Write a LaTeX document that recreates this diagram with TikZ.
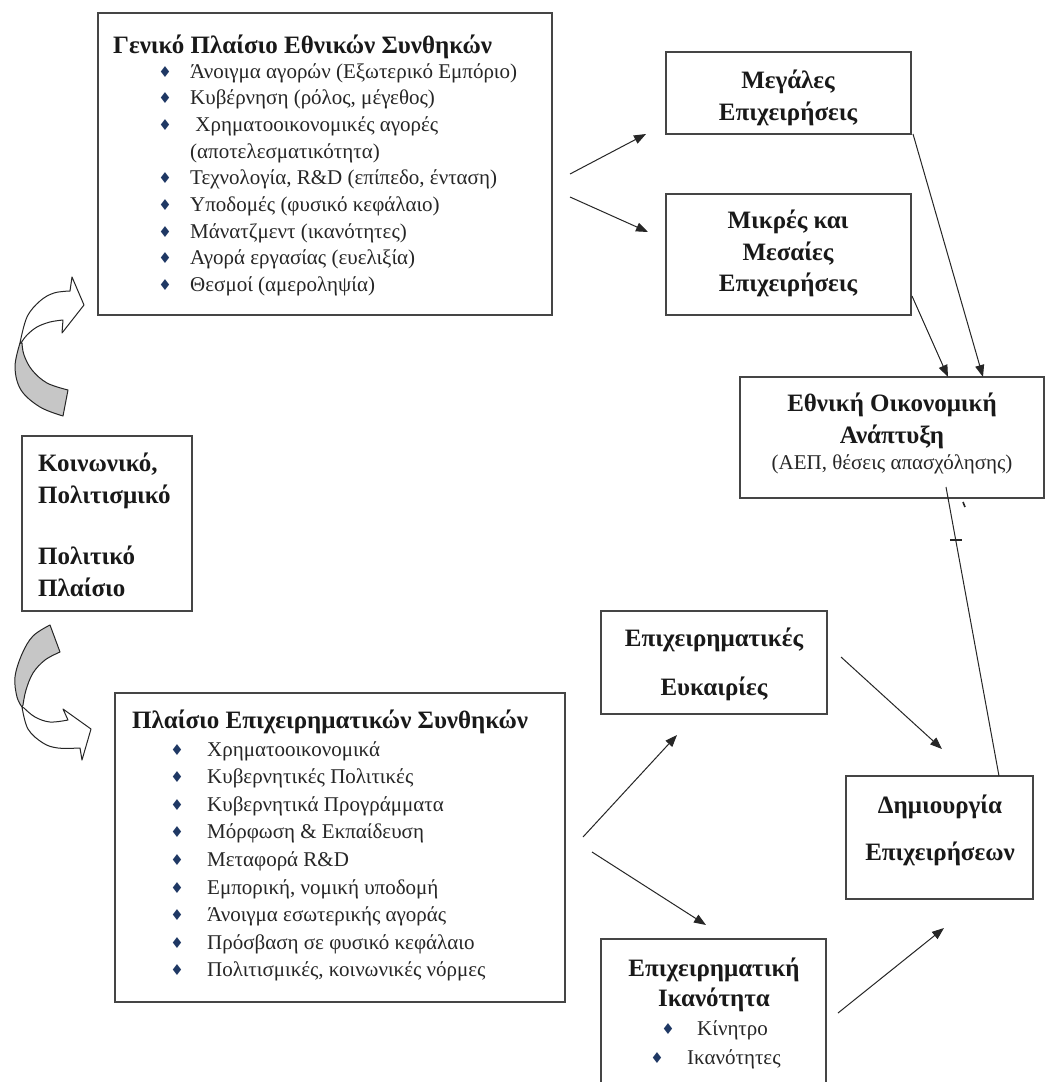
\documentclass[tikz,border=0pt]{standalone}
\usepackage{fontspec}
\setmainfont{Liberation Serif}
\newfontfamily\symf{DejaVu Sans}
\usetikzlibrary{arrows.meta}
\definecolor{navy}{HTML}{1F3864}
\definecolor{edge}{HTML}{454545}
\definecolor{tailgray}{HTML}{C6C6C6}
\tikzset{
  box/.style={draw=edge, line width=1.3pt, anchor=north west, inner sep=0pt, outer sep=0pt},
  boxline/.style={draw=edge, line width=1.3pt},
  ttl/.style={font=\fontsize{25}{28}\selectfont\bfseries, anchor=base west, inner sep=0pt, text=black!90},
  ctl/.style={font=\fontsize{25}{28}\selectfont\bfseries, anchor=base, inner sep=0pt, text=black!90},
  body/.style={font=\fontsize{21}{24}\selectfont, anchor=base west, inner sep=0pt, text=black!85},
  cbody/.style={font=\fontsize{21}{24}\selectfont, anchor=base, inner sep=0pt, text=black!85},
  bul/.style={font=\symf\fontsize{15}{15}\selectfont, text=navy, anchor=base, inner sep=0pt},
  arr/.style={-{Triangle[length=12pt,width=9pt]}, line width=1pt, draw=black!85},
  ln/.style={line width=1pt, draw=black!85},
  curv/.style={draw=black!85, line width=1pt, line join=round},
}
\begin{document}
\begin{tikzpicture}[x=1pt,y=-1pt]
\useasboundingbox (0,0) rectangle (1048,1082);
\fill[white] (0,0) rectangle (1048,1082);

% ---------- General national framework box
\node[box, minimum width=454pt, minimum height=302pt] (gen) at (98,13) {};
\node[ttl] (genT) at (113,53) {Γενικό Πλαίσιο Εθνικών Συνθηκών};
\foreach \t [count=\i] in {{Άνοιγμα αγορών (Εξωτερικό Εμπόριο)},{Κυβέρνηση (ρόλος, μέγεθος)},{\ Χρηματοοικονομικές αγορές},{(αποτελεσματικότητα)},{Τεχνολογία, R\&D (επίπεδο, ένταση)},{Υποδομές (φυσικό κεφάλαιο)},{Μάνατζμεντ (ικανότητες)},{Αγορά εργασίας (ευελιξία)},{Θεσμοί (αμεροληψία)}}{
  \node[body] (gt\i) at (190,{78+26.7*(\i-1)}) {\t};
}
\foreach \i in {1,2,3,5,6,7,8,9}{
  \node[bul] (gb\i) at (165,{77+26.7*(\i-1)}) {♦};
}

% ---------- Social / cultural / political box
\node[box, minimum width=170pt, minimum height=175pt] (soc) at (22,436) {};
\node[ttl] (soc1) at (38,471) {Κοινωνικό,};
\node[ttl] (soc2) at (38,503) {Πολιτισμικό};
\node[ttl] (soc3) at (38,564) {Πολιτικό};
\node[ttl] (soc4) at (38,596) {Πλαίσιο};

% ---------- Business framework box
\node[box, minimum width=450pt, minimum height=309pt] (biz) at (115,693) {};
\node[ttl] (bizT) at (132,728) {Πλαίσιο Επιχειρηματικών Συνθηκών};
\foreach \t [count=\i] in {{Χρηματοοικονομικά},{Κυβερνητικές Πολιτικές},{Κυβερνητικά Προγράμματα},{Μόρφωση \& Εκπαίδευση},{Μεταφορά R\&D},{Εμπορική, νομική υποδομή},{Άνοιγμα εσωτερικής αγοράς},{Πρόσβαση σε φυσικό κεφάλαιο},{Πολιτισμικές, κοινωνικές νόρμες}}{
  \node[body] (bt\i) at (207,{756+27.6*(\i-1)}) {\t};
  \node[bul] (bb\i) at (177,{755+27.6*(\i-1)}) {♦};
}

% ---------- Right-hand boxes
\node[box, minimum width=245pt, minimum height=82pt] (big) at (666,52) {};
\node[ctl] (big1) at (788,88) {Μεγάλες};
\node[ctl] (big2) at (788,120) {Επιχειρήσεις};

\node[box, minimum width=245pt, minimum height=121pt] (sme) at (666,194) {};
\node[ctl] (sme1) at (788,228) {Μικρές και};
\node[ctl] (sme2) at (788,260) {Μεσαίες};
\node[ctl] (sme3) at (788,291) {Επιχειρήσεις};

\node[box, minimum width=304pt, minimum height=121pt] (nat) at (740,377) {};
\node[ctl] (nat1) at (892,411) {Εθνική Οικονομική};
\node[ctl] (nat2) at (892,443) {Ανάπτυξη};
\node[cbody] (nat3) at (892,469) {(ΑΕΠ, θέσεις απασχόλησης)};

\node[box, minimum width=226pt, minimum height=103pt] (opp) at (601,611) {};
\node[ctl] (opp1) at (714,646) {Επιχειρηματικές};
\node[ctl] (opp2) at (714,695) {Ευκαιρίες};

\node[box, minimum width=187pt, minimum height=123pt] (cre) at (846,776) {};
\node[ctl] (cre1) at (940,813) {Δημιουργία};
\node[ctl] (cre2) at (940,860) {Επιχειρήσεων};

\node[anchor=north west, inner sep=0pt, outer sep=0pt, minimum width=225pt, minimum height=150pt] (cap) at (601,939) {};
\draw[boxline] (cap.south west) -- (cap.north west) -- (cap.north east) -- (cap.south east);
\node[ctl] (cap1) at (714,976) {Επιχειρηματική};
\node[ctl] (cap2) at (714,1006) {Ικανότητα};
\node[body] (cap3) at (697,1035) {Κίνητρο};
\node[bul] (cap3b) at (668,1034) {♦};
\node[body] (cap4) at (687,1064) {Ικανότητες};
\node[bul] (cap4b) at (657,1063) {♦};

% ---------- Connectors
\coordinate (a1s) at (570,174); \coordinate (a1e) at (646,134);
\coordinate (a2s) at (570,197); \coordinate (a2e) at (648,232);
\draw[arr] (a1s) -- (a1e);
\draw[arr] (a2s) -- (a2e);
\coordinate (b1s) at (913,134); \coordinate (b1e) at (983,377);
\coordinate (b2s) at (912,296); \coordinate (b2e) at (948,377);
\draw[arr] (b1s) -- (b1e);
\draw[arr] (b2s) -- (b2e);

\coordinate (c1s) at (583,837); \coordinate (c1e) at (677,735);
\coordinate (c2s) at (592,852); \coordinate (c2e) at (706,925);
\draw[arr] (c1s) -- (c1e);
\draw[arr] (c2s) -- (c2e);
\coordinate (d1s) at (841,657); \coordinate (d1e) at (942,749);
\coordinate (d2s) at (838,1013); \coordinate (d2e) at (944,928);
\draw[arr] (d1s) -- (d1e);
\draw[arr] (d2s) -- (d2e);

\coordinate (e1s) at (999,776); \coordinate (e1e) at (946,487);
\draw[ln] (e1s) -- (e1e);
\draw[line width=1.6pt, draw=black!85] (950,540) -- (962,540);
\draw[line width=1.6pt, draw=black!85] (963,502) -- (965,507);

% ---------- Curved arrows
% top curved arrow
\filldraw[curv, fill=tailgray]
  (20,343) -- plot[smooth, tension=0.6] coordinates {(20,343) (15,367) (21,390) (40,407) (63,416)}
  -- (68,390)
  -- plot[smooth, tension=0.6] coordinates {(68,390) (47,383) (32,370) (24,355) (22,343)} -- cycle;
\filldraw[curv, fill=white]
  (20,343) -- plot[smooth, tension=0.6] coordinates {(20,343) (27,317) (40,301) (54,293) (70,291)}
  -- (72,277) -- (84,305) -- (62,333) -- (63,320)
  -- plot[smooth, tension=0.6] coordinates {(63,320) (50,322) (37,327) (27,335) (21,343)} -- cycle;

% bottom curved arrow
\filldraw[curv, fill=tailgray]
  (50,625) -- plot[smooth, tension=0.6] coordinates {(50,625) (33,636) (22,654) (15,677) (17,697) (22,707)}
  -- plot[smooth, tension=0.6] coordinates {(23,705) (26,690) (33,673) (45,660) (60,652)} -- cycle;
\filldraw[curv, fill=white]
  (22,707) -- plot[smooth, tension=0.6] coordinates {(22,707) (28,729) (43,743) (58,748) (80,748)}
  -- (82,760) -- (91,729) -- (63,709) -- (68,720)
  -- plot[smooth, tension=0.6] coordinates {(68,720) (50,722) (35,717) (24,708)} -- cycle;
\end{tikzpicture}
\end{document}
